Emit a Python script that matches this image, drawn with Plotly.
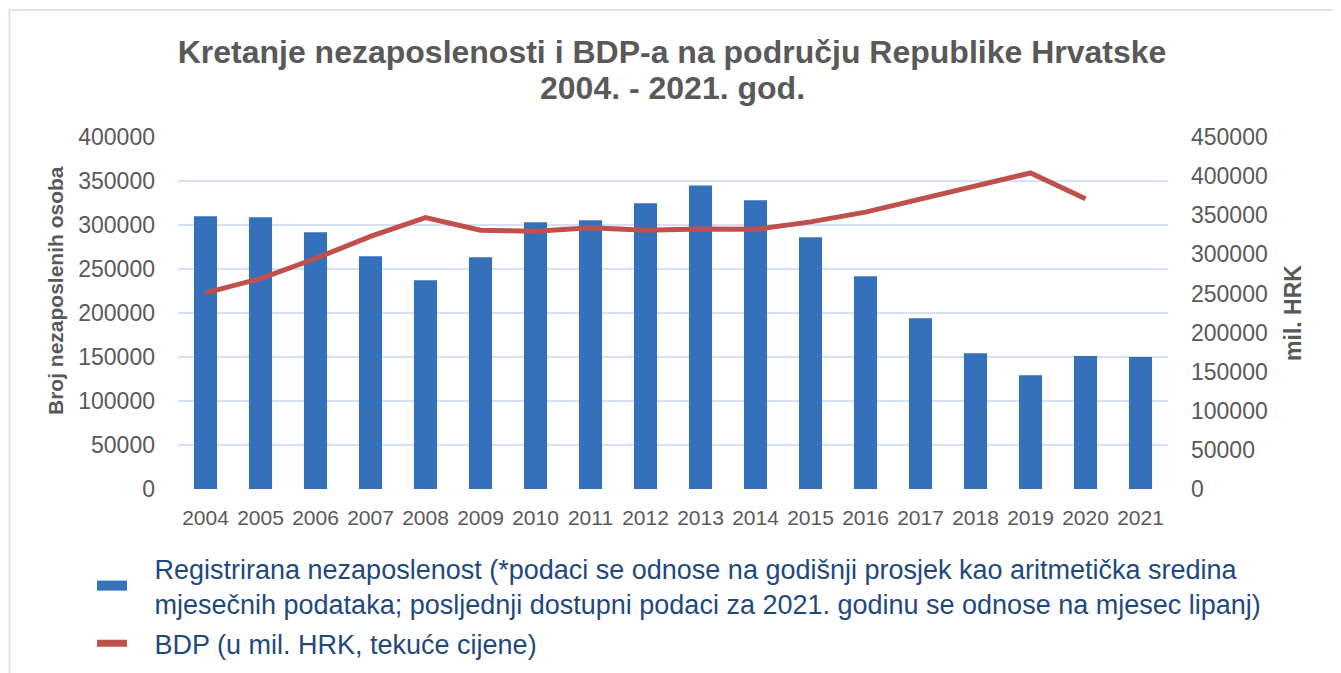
import plotly.graph_objects as go

years = [str(y) for y in range(2004, 2022)]
unemployment = [310000, 308800, 291800, 264500, 237300, 263400, 303000, 305400, 324700,
                345000, 328000, 286000, 241800, 194000, 154400, 129400, 151000, 149900]
gdp = [250700, 269000, 294700, 323000, 347000, 330800, 329500, 334000, 330800,
       332500, 332000, 341500, 354000, 371000, 388000, 404000, 371000, None]

left_ticks = list(range(0, 400001, 50000))
right_ticks = list(range(0, 450001, 50000))

title_line1 = "Kretanje nezaposlenosti i BDP-a na području Republike Hrvatske"
title_line2 = "2004. - 2021. god."
NB = "\u00a0"
bar_name = (NB * 3 + "Registrirana nezaposlenost (*podaci se odnose na godišnji prosjek kao aritmetička sredina"
            "<br>" + NB * 3 + "mjesečnih podataka; posljednji dostupni podaci za 2021. godinu se odnose na mjesec lipanj)")
line_name = NB * 3 + "BDP (u mil. HRK, tekuće cijene)"
left_title = "Broj nezaposlenih osoba"
right_title = "mil. HRK"

FONT = "Liberation Sans, Arial, sans-serif"
GRAY = "#595959"
BAR = "#3571BA"
RED = "#C0504D"
GRID = "#D6E1F1"
LEG = "#1F497D"

# the page body has an 8px margin: work in page pixels, convert to figure pixels
OFF = 8
W, H = 1341 - OFF, 673 - OFF
L, R, T, B = 178 - OFF, 1168 - OFF, 137 - OFF, 489 - OFF
pw, ph = R - L, B - T


def px(xp):
    return (xp - 178) / pw


def py(yp):
    return (489 - yp) / ph


fig = go.Figure()
fig.add_trace(go.Bar(x=years, y=unemployment, name="Registrirana nezaposlenost",
                     marker=dict(color=BAR, line=dict(width=0)), showlegend=False, yaxis="y"))
fig.add_trace(go.Scatter(x=years, y=gdp, name="BDP", mode="lines",
                         line=dict(color=RED, width=5), yaxis="y2", showlegend=False))
# legend entries
fig.add_trace(go.Scatter(x=[None], y=[None], name=bar_name, mode="lines", legendgroup="a",
                         line=dict(color=BAR, width=10), yaxis="y"))
fig.add_trace(go.Scatter(x=[None], y=[None], name=line_name, mode="lines", legendgroup="b",
                         line=dict(color=RED, width=7), yaxis="y2"))

fig.update_layout(
    width=W, height=H,
    margin=dict(l=L, r=W - R, t=T, b=H - B, pad=0, autoexpand=False),
    paper_bgcolor="white", plot_bgcolor="white",
    font=dict(family=FONT, color=GRAY),
    bargap=0.58,
    title=dict(text=title_line1, x=(672 - OFF) / W, xanchor="center",
               y=1 - (52 - OFF) / H, yanchor="middle",
               font=dict(family=FONT, size=32, color=GRAY, weight="bold")),
    annotations=[
        dict(text=title_line2, xref="paper", yref="paper", x=px(672), y=py(88),
             xanchor="center", yanchor="middle", showarrow=False,
             font=dict(family=FONT, size=32, color=GRAY, weight="bold")),
        dict(text=left_title, xref="paper", yref="paper", x=px(55), y=py(291),
             xanchor="center", yanchor="middle", showarrow=False, textangle=-90,
             font=dict(family=FONT, size=21, color=GRAY, weight="bold")),
    ],
    xaxis=dict(type="category", showgrid=False, zeroline=False, showline=False, ticks="",
               tickfont=dict(size=21, color=GRAY), ticklabelstandoff=14),
    yaxis=dict(range=[0, 400000], tickvals=left_ticks, tickformat="d", showgrid=True,
               gridcolor=GRID, gridwidth=2,
               zeroline=False, showline=False, ticks="", tickfont=dict(size=23, color=GRAY),
               ticklabelstandoff=22),
    yaxis2=dict(range=[0, 450000], tickvals=right_ticks, tickformat="d", overlaying="y", side="right",
                showgrid=False, zeroline=False, showline=False, ticks="",
                tickfont=dict(size=23, color=GRAY), ticklabelstandoff=22,
                title=dict(text=right_title, standoff=18,
                           font=dict(size=23, color=GRAY, weight="bold"))),
    legend=dict(orientation="v", x=px(92), xanchor="left", y=py(544), yanchor="top",
                font=dict(size=27, color=LEG), bgcolor="rgba(0,0,0,0)", itemwidth=30,
                tracegroupgap=2),
    shapes=[dict(type="rect", xref="paper", yref="paper",
                 x0=px(9.5), x1=px(1334), y0=py(700), y1=py(10),
                 line=dict(color="#D9E4F2", width=2), fillcolor="rgba(0,0,0,0)", layer="below")],
)

fig.write_html("out.html")
